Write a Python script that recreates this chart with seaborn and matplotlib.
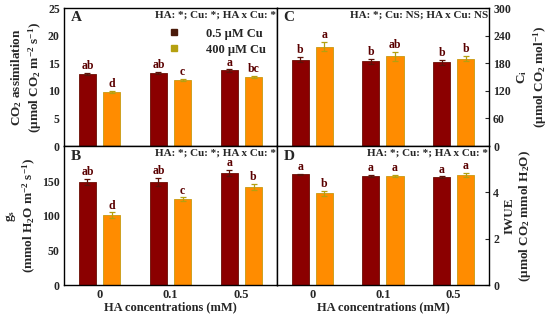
import pandas as pd
import numpy as np
import matplotlib
matplotlib.use('Agg')
import matplotlib.pyplot as plt
from matplotlib.lines import Line2D
import seaborn as sns

# ---------- data ----------
ha_levels = ['0', '0.1', '0.5']
cu_levels = ['0.5 µM Cu', '400 µM Cu']

a_low = [13.1, 13.3, 13.7]
a_high = [9.8, 12.0, 12.5]
a_low_err = [0.2, 0.2, 0.2]
a_high_err = [0.25, 0.2, 0.2]
a_letters_low = ['ab', 'ab', 'a']
a_letters_high = ['d', 'c', 'bc']

gs_low = [149, 149, 162]
gs_high = [101, 124, 142]
gs_low_err = [5, 6, 5]
gs_high_err = [4, 3, 4]
gs_letters_low = ['ab', 'ab', 'a']
gs_letters_high = ['d', 'c', 'b']

ci_low = [188, 184, 182]
ci_high = [216, 195, 190]
ci_low_err = [6, 6, 6]
ci_high_err = [10, 10, 6]
ci_letters_low = ['b', 'b', 'b']
ci_letters_high = ['a', 'ab', 'b']

wue_low = [4.78, 4.71, 4.65]
wue_high = [3.96, 4.71, 4.75]
wue_low_err = [0.03, 0.04, 0.04]
wue_high_err = [0.12, 0.05, 0.08]
wue_letters_low = ['a', 'a', 'a']
wue_letters_high = ['b', 'a', 'a']

# ---------- style ----------
sns.set_style('white')
plt.rcParams['font.family'] = ['Liberation Serif', 'DejaVu Serif']
plt.rcParams['font.weight'] = 'bold'
plt.rcParams['axes.labelweight'] = 'bold'
plt.rcParams['mathtext.fontset'] = 'custom'
plt.rcParams['mathtext.rm'] = 'Liberation Serif:bold'
plt.rcParams['mathtext.it'] = 'Liberation Serif:bold'
plt.rcParams['mathtext.default'] = 'rm'

bar_colors = ['#8B0000', '#FF8C00']
edge_colors = ['#6A0E04', '#C89A10']
err_colors = ['#5C1208', '#B5A010']
letter_color = '#5a0000'


def make_df(low, high):
    return pd.DataFrame({
        'HA': ha_levels * 2,
        'Cu': [cu_levels[0]] * 3 + [cu_levels[1]] * 3,
        'val': low + high,
    })


def panel(ax, low, high, low_err, high_err, let_low, let_high, ylim, ticks):
    df = make_df(low, high)
    sns.barplot(data=df, x='HA', y='val', hue='Cu', hue_order=cu_levels,
                palette=bar_colors, saturation=1, width=0.68, gap=0.29,
                errorbar=None, legend=False, ax=ax)
    errs = [low_err, high_err]
    lets = [let_low, let_high]
    vals = [low, high]
    bars = ax.patches
    for h in range(2):
        for i in range(3):
            b = bars[h * 3 + i]
            b.set_edgecolor(edge_colors[h])
            b.set_linewidth(0.6)
            cx = b.get_x() + b.get_width() / 2
            ax.errorbar(cx, vals[h][i], yerr=errs[h][i], color=err_colors[h],
                        capsize=2.5, elinewidth=0.9, capthick=0.9)
            ax.annotate(lets[h][i], (cx, vals[h][i] + errs[h][i]),
                        xytext=(0, 0.5), textcoords='offset points',
                        ha='center', va='bottom', fontsize=8.5,
                        fontweight='bold', color=letter_color)
    ax.set_xlim(-0.5, 2.5)
    ax.set_ylim(*ylim)
    ax.set_yticks(ticks)
    ax.tick_params(axis='y', direction='in', length=3, labelsize=8.5, pad=3)
    ax.tick_params(axis='x', length=0, labelsize=9, pad=3)
    for s in ax.spines.values():
        s.set_visible(True)
        s.set_color('black')
        s.set_linewidth(1)
    ax.set_xlabel('')
    ax.set_ylabel('')


fig = plt.figure(figsize=(5.5, 3.21), dpi=100)
L, M, R = 0.1164, 0.5036, 0.889
B, Mid, T = 0.112, 0.545, 0.975
axA = fig.add_axes([L, Mid, M - L, T - Mid])
axB = fig.add_axes([L, B, M - L, Mid - B])
axC = fig.add_axes([M, Mid, R - M, T - Mid])
axD = fig.add_axes([M, B, R - M, Mid - B])

panel(axA, a_low, a_high, a_low_err, a_high_err, a_letters_low, a_letters_high,
      (0, 25), [0, 5, 10, 15, 20, 25])
panel(axB, gs_low, gs_high, gs_low_err, gs_high_err, gs_letters_low, gs_letters_high,
      (0, 201), [0, 50, 100, 150])
panel(axC, ci_low, ci_high, ci_low_err, ci_high_err, ci_letters_low, ci_letters_high,
      (0, 300), [0, 60, 120, 180, 240, 300])
panel(axD, wue_low, wue_high, wue_low_err, wue_high_err, wue_letters_low, wue_letters_high,
      (0, 6), [0, 2, 4])

for ax in (axA, axC):
    ax.set_xticklabels([])
for ax in (axC, axD):
    ax.yaxis.tick_right()
    ax.yaxis.set_label_position('right')

axA.set_ylabel('CO$_2$ assimilation\n(µmol CO$_2$ m$^{-2}$ s$^{-1}$)', fontsize=9.5, labelpad=3)
axB.set_ylabel('g$_s$\n(mmol H$_2$O m$^{-2}$ s$^{-1}$)', fontsize=9.5, labelpad=3)
axC.set_ylabel('C$_i$\n(µmol CO$_2$ mol$^{-1}$)', fontsize=9.5, labelpad=3)
axD.set_ylabel('IWUE\n(µmol CO$_2$ mmol H$_2$O)', fontsize=9.5, labelpad=3)
axB.set_xlabel('HA concentrations (mM)', fontsize=9, labelpad=0)
axD.set_xlabel('HA concentrations (mM)', fontsize=9, labelpad=0)

stats = {axA: 'HA: *; Cu: *; HA x Cu: *', axB: 'HA: *; Cu: *; HA x Cu: *',
         axC: 'HA: *; Cu: NS; HA x Cu: NS', axD: 'HA: *; Cu: *; HA x Cu: *'}
for ax, lab in zip((axA, axB, axC, axD), 'ABCD'):
    ax.text(0.03, 0.975, lab, transform=ax.transAxes, ha='left', va='top',
            fontsize=11, fontweight='bold')
    ax.text(0.995, 0.985, stats[ax], transform=ax.transAxes, ha='right', va='top',
            fontsize=8, fontweight='bold')

handles = [Line2D([], [], marker='s', linestyle='', markersize=4.5,
                  color=c, label=l) for c, l in zip(['#4a1a0a', '#b5a010'], cu_levels)]
axA.legend(handles=handles, loc='upper right', bbox_to_anchor=(0.99, 0.92),
           frameon=False, fontsize=9, handletextpad=1.6, labelspacing=0.3,
           borderpad=0.2)

fig.savefig('out.png', dpi=100)
